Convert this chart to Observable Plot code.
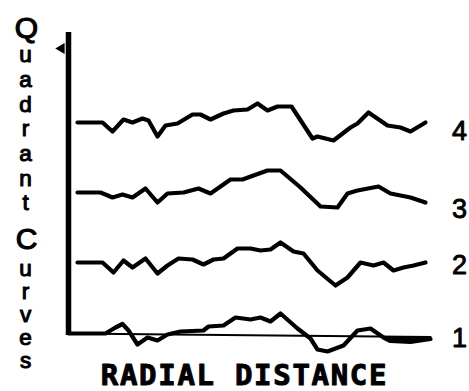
<!DOCTYPE html>
<html>
<head>
<meta charset="utf-8">
<script src="https://cdn.jsdelivr.net/npm/d3@7"></script>
<script src="https://cdn.jsdelivr.net/npm/@observablehq/plot@0.6"></script>
<style>
  html, body { margin: 0; padding: 0; background: #fff; }
  #chart svg { display: block; }
  .xtitle text { letter-spacing: 1.7px; }
</style>
</head>
<body>
<div id="chart"></div>
<script>
// Radial distance (from the vertical axis) and curve heights (from the bottom baseline)
const curve4X = [9, 34, 44, 55, 64, 74, 80, 89, 97, 109, 124, 132, 142, 155, 165, 179, 189, 199, 209, 223, 244, 249, 265, 282, 289, 300, 319, 332, 342, 357];
const curve4Y = [211, 211, 202, 214, 211, 215, 213, 197, 208, 210, 219, 219, 214, 220, 223, 224, 230, 223, 227, 227, 195, 197, 193, 206, 210, 221, 208, 206, 202, 211];

const curve3X = [9, 32, 44, 54, 64, 77, 89, 99, 115, 130, 142, 162, 174, 185, 199, 212, 232, 252, 269, 279, 289, 310, 322, 342, 357];
const curve3Y = [141, 141, 136, 139, 136, 145, 131, 140, 141, 145, 140, 154, 154, 158, 163, 163, 146, 127, 126, 140, 143, 147, 140, 136, 131];

const curve2X = [9, 34, 45, 55, 64, 77, 89, 99, 110, 124, 135, 145, 155, 169, 182, 192, 202, 212, 225, 235, 249, 267, 279, 292, 305, 315, 325, 335, 345, 357];
const curve2Y = [71, 71, 61, 73, 66, 75, 60, 68, 75, 74, 69, 74, 75, 85, 85, 83, 84, 91, 82, 80, 63, 48, 56, 71, 68, 71, 63, 66, 68, 71];

const curve1X = [0, 37, 47, 54, 60, 69, 79, 89, 99, 112, 135, 140, 155, 167, 182, 192, 202, 212, 229, 242, 249, 259, 275, 289, 302, 315, 322, 342, 362];
const curve1Y = [0, 0, 6, 9.5, 3, -11, -4, -7, -1, 2, 3, 7, 8, 16, 14, 16, 12, 20, 5, -5, -16, -18, -12, 3, 5, -4, -7.5, -8.5, -5.5];

const baselineX = [0, 362];
const baselineY = [0, -3.5];

const curveNames = ["1", "2", "3", "4"];
const curveLabelY = [-5, 68, 124, 202];

const yTitleWords = ["Quadrant", "Curves"];
const xTitle = "RADIAL DISTANCE";

// build the table
const series = [[curve1X, curve1Y], [curve2X, curve2Y], [curve3X, curve3Y], [curve4X, curve4Y]];
const rows = [];
series.forEach(([xs, ys], k) => xs.forEach((x, i) => rows.push({curve: curveNames[k], x, y: ys[i]})));
const baseline = baselineX.map((x, i) => ({x, y: baselineY[i]}));
const labelX = curve4X[curve4X.length - 1];
const labels = curveNames.map((name, k) => ({name, x: labelX, y: curveLabelY[k]}));

// shaded part of curve 1 where it runs just under the baseline at the far end
const tail = curve1X.map((x, i) => ({x, y: curve1Y[i], b: -3.5 * x / 362})).filter(d => d.x >= 315);

// stacked vertical title letters: baseline positions laid out per word
const letters = [];
const wordStart = [296, 81];   // y (scale units) of the first letter baseline of each word
const wordStep = [24.7, 23];
const capLift = [0, 4];
yTitleWords.forEach((w, wi) => {
  [...w].forEach((ch, i) => letters.push({ch, y: wordStart[wi] - i * wordStep[wi] + (i === 0 ? capLift[wi] : 0), cap: i === 0}));
});

const smallSize = 22.5, capSize = 30;

const chart = Plot.plot({
  width: 469,
  height: 391,
  marginLeft: 68,
  marginRight: 29,
  marginTop: 32,
  marginBottom: 58,
  x: {axis: null, domain: [0, 372]},
  y: {axis: null, domain: [0, 301]},
  style: {background: "#fff"},
  marks: [
    Plot.line(baseline, {x: "x", y: "y", stroke: "black", strokeWidth: 2.2}),
    Plot.areaY(tail, {x: "x", y1: "y", y2: "b", fill: "black"}),
    Plot.ruleX([0], {y1: -2, y2: 301, stroke: "black", strokeWidth: 5.5}),
    Plot.dot([0], {x: -7, y: 285, symbol: "triangle", rotate: -90, r: 4, fill: "black"}),
    Plot.line(rows, {x: "x", y: "y", z: "curve", stroke: "black", strokeWidth: 4.2, strokeLinejoin: "round", strokeLinecap: "round", curve: "linear"}),
    Plot.text(labels, {x: "x", y: "y", text: "name", dx: 34, fontSize: 27, fontFamily: "Liberation Sans", stroke: "black", strokeWidth: 0.9, fill: "black", textAnchor: "middle", lineAnchor: "middle"}),
    Plot.text(letters.filter(d => !d.cap), {x: -43, y: "y", text: "ch", dy: -0.32 * smallSize, fontSize: smallSize, fontFamily: "Liberation Sans", fill: "black", stroke: "black", strokeWidth: 1.1, textAnchor: "middle", lineAnchor: "middle"}),
    Plot.text(letters.filter(d => d.cap), {x: -42, y: "y", text: "ch", dy: -0.32 * capSize, fontSize: capSize, fontFamily: "Liberation Sans", fill: "black", stroke: "black", strokeWidth: 1.2, textAnchor: "middle", lineAnchor: "middle"}),
    Plot.text([xTitle], {className: "xtitle", frameAnchor: "bottom", dx: -10, dy: 51, fontSize: 29, fontWeight: "bold", fontFamily: "DejaVu Sans Mono", fill: "black", stroke: "black", strokeWidth: 1, textAnchor: "middle", lineAnchor: "bottom"})
  ]
});
document.getElementById("chart").appendChild(chart);
</script>
</body>
</html>
